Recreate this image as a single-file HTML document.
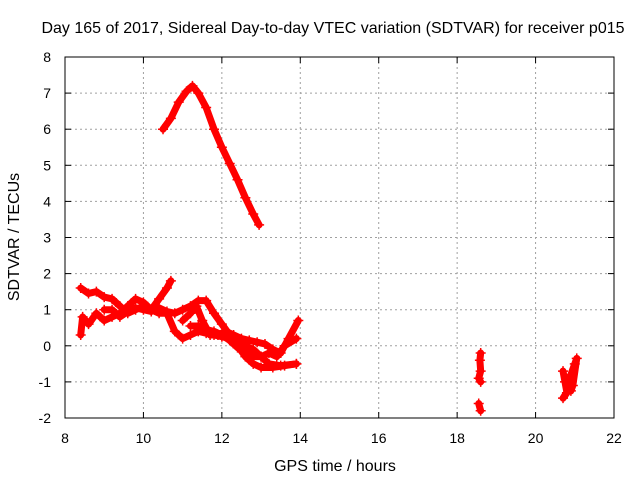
<!DOCTYPE html>
<html><head><meta charset="utf-8"><style>body{margin:0;background:#fff}svg{display:block;font-family:"Liberation Sans",sans-serif}</style></head>
<body>
<svg id="chart" width="640" height="480" viewBox="0 0 640 480" xmlns="http://www.w3.org/2000/svg">
<rect width="640" height="480" fill="#fff"/>
<text x="333" y="33" font-size="16" text-anchor="middle">Day 165 of 2017, Sidereal Day-to-day VTEC variation (SDTVAR) for receiver p015</text>
<text x="335" y="471" font-size="16" text-anchor="middle">GPS time / hours</text>
<text transform="translate(19,237) rotate(-90)" font-size="16" text-anchor="middle">SDTVAR / TECUs</text>
<g id="grid"></g><g id="ticks"></g><g id="marks"></g>
<rect x="65" y="57" width="549" height="361" fill="none" stroke="#000" stroke-width="1"/>
<script>
const xTicks=[8,10,12,14,16,18,20,22];
const yTicks=[-2,-1,0,1,2,3,4,5,6,7,8];
const trackA=[[10.5,6.0],[10.7,6.3],[10.9,6.75],[11.1,7.05],[11.25,7.2],[11.4,7.0],[11.6,6.6],[11.8,6.0],[12.0,5.5],[12.2,5.05],[12.4,4.6],[12.6,4.1],[12.8,3.65],[12.95,3.35]];
const trackB=[[8.4,1.6],[8.6,1.45],[8.8,1.5],[9.0,1.35],[9.2,1.3],[9.4,1.1],[9.6,0.9],[9.8,1.0],[10.0,1.1],[10.2,1.0],[10.4,0.9],[10.6,0.9],[10.8,0.4],[11.0,0.2],[11.2,0.3],[11.4,0.4],[11.6,0.35],[11.8,0.3],[12.0,0.25],[12.2,0.2],[12.4,0.1],[12.6,0.0],[12.8,-0.1],[13.0,-0.3],[13.2,-0.5],[13.5,-0.55],[13.9,-0.5]];
const trackC=[[8.4,0.3],[8.45,0.8],[8.6,0.6],[8.8,0.9],[9.0,0.7],[9.2,0.8],[9.4,0.9],[9.6,1.1],[9.8,1.3],[10.0,1.2],[10.2,1.0],[10.4,1.3],[10.6,1.6],[10.7,1.8]];
const trackD=[[9.0,1.0],[9.2,1.0],[9.4,0.8],[9.6,0.95],[9.8,1.05],[10.0,1.0],[10.2,0.95],[10.4,1.05],[10.6,0.95],[10.8,0.9],[11.0,1.0],[11.2,1.1],[11.4,1.25],[11.6,1.25],[11.8,0.9],[12.0,0.6],[12.2,0.3],[12.4,0.0],[12.6,-0.3],[12.8,-0.5],[13.0,-0.6],[13.3,-0.6],[13.6,-0.55],[13.9,-0.5]];
const trackE=[[11.0,0.7],[11.2,0.9],[11.35,1.1],[11.5,0.7],[11.7,0.3],[11.9,0.3],[12.1,0.4],[12.3,0.3],[12.5,0.2],[12.7,0.15],[12.9,0.1],[13.1,0.05],[13.3,-0.1],[13.5,-0.2],[13.7,0.2],[13.95,0.7]];
const trackF=[[11.2,0.55],[11.4,0.55],[11.6,0.45],[11.8,0.4],[12.0,0.3],[12.2,0.15],[12.4,-0.05],[12.6,-0.2],[12.8,-0.3],[13.0,-0.3],[13.2,-0.2],[13.4,-0.3],[13.6,0.0],[13.9,0.2]];
const trackG=[[18.6,-0.2],[18.58,-0.4],[18.6,-0.7],[18.55,-0.9],[18.6,-1.0]];
const trackG2=[[18.55,-1.6],[18.6,-1.8]];
const trackH=[[20.7,-0.7],[20.75,-1.0],[20.8,-1.3],[20.7,-1.45],[20.85,-1.2],[20.9,-0.8],[21.0,-0.5],[21.05,-0.35],[20.95,-1.1],[20.9,-1.25]];
const tracks=[trackA,trackB,trackC,trackD,trackE,trackF,trackG,trackG2,trackH];
const NS="http://www.w3.org/2000/svg";
const xs=v=>65+(v-8)*549/14, ys=v=>418-(v+2)*361/10;
function mk(tag,attrs,parent){const e=document.createElementNS(NS,tag);for(const k in attrs)e.setAttribute(k,attrs[k]);parent.appendChild(e);return e;}
const grid=document.getElementById('grid'),ticks=document.getElementById('ticks'),marks=document.getElementById('marks');
xTicks.forEach(t=>{const x=xs(t);
 if(t>8&&t<22){const g=mk('line',{x1:x,x2:x,y1:57,y2:418,stroke:'#a0a0a0','stroke-dasharray':'2,3'},grid);
 
 }
 mk('line',{x1:x,x2:x,y1:418,y2:412,stroke:'#000'},ticks);mk('line',{x1:x,x2:x,y1:57,y2:63,stroke:'#000'},ticks);
 const l=mk('text',{x:x,y:443,'font-size':14,'text-anchor':'middle'},ticks);l.textContent=t;
 
 });
yTicks.forEach(t=>{const y=ys(t);
 if(t>-2&&t<8){const g=mk('line',{x1:65,x2:614,y1:y,y2:y,stroke:'#a0a0a0','stroke-dasharray':'2,3'},grid);
 
 }
 mk('line',{x1:65,x2:71,y1:y,y2:y,stroke:'#000'},ticks);mk('line',{x1:614,x2:608,y1:y,y2:y,stroke:'#000'},ticks);
 const l=mk('text',{x:51,y:y+5,'font-size':14,'text-anchor':'end'},ticks);l.textContent=t;
 
 });
tracks.forEach(tr=>{
 const p=mk('polyline',{points:tr.map(d=>xs(d[0])+','+ys(d[1])).join(' '),fill:'none',stroke:'#f00','stroke-width':7,'stroke-linejoin':'round','stroke-linecap':'round'},marks);
 
 
 tr.forEach(d=>{const x=xs(d[0]),y=ys(d[1]);
  const m=mk('path',{d:`M${x-5},${y}h10M${x},${y-5}v10`,stroke:'#f00','stroke-width':1.5},marks);
  
  });
});
</script>
</svg>
</body></html>
